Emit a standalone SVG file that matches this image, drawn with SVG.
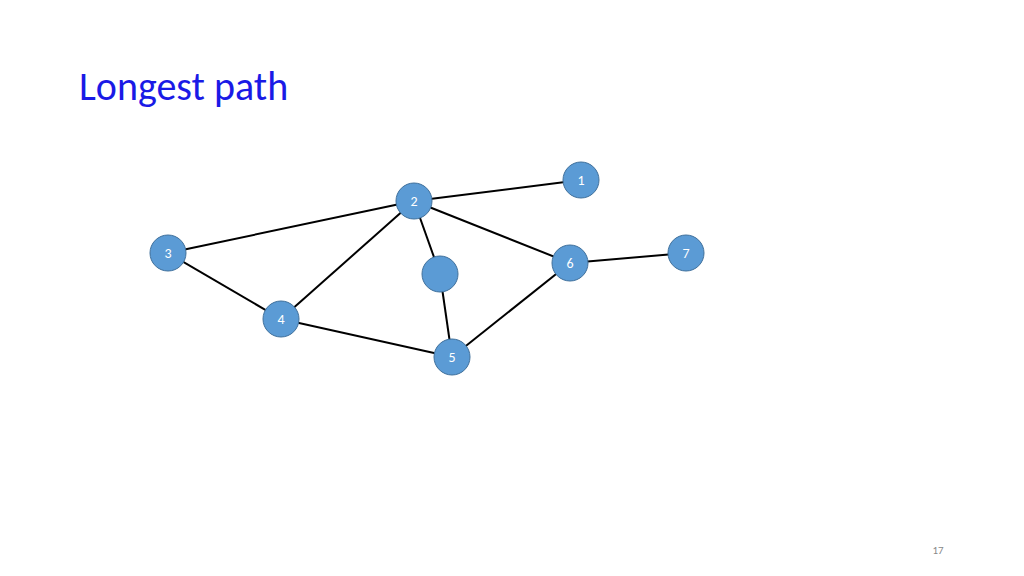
<svg xmlns="http://www.w3.org/2000/svg" width="1024" height="576" viewBox="0 0 1024 576">
<style>
.n{fill:#5b9bd5;stroke:#41719c;stroke-width:1}
.t{font-family:Calibri,"Liberation Sans",sans-serif;font-size:14px;fill:#fff;text-anchor:middle}
.e{stroke:#000;stroke-width:2}
</style>
<rect width="1024" height="576" fill="#fff"/>
<text x="79" y="100" font-family="Calibri,'Liberation Sans',sans-serif" font-size="40" fill="#1a1ae6">Longest path</text>
<text x="938" y="554" font-family="Calibri,'Liberation Sans',sans-serif" font-size="11" fill="#888" text-anchor="middle">17</text>
<g id="edges">
<line class="e" x1="414" y1="201" x2="581" y2="180"/>
<line class="e" x1="414" y1="201" x2="168" y2="253"/>
<line class="e" x1="414" y1="201" x2="281" y2="319"/>
<line class="e" x1="414" y1="201" x2="440" y2="274"/>
<line class="e" x1="414" y1="201" x2="570" y2="263"/>
<line class="e" x1="168" y1="253" x2="281" y2="319"/>
<line class="e" x1="281" y1="319" x2="452" y2="357"/>
<line class="e" x1="440" y1="274" x2="452" y2="357"/>
<line class="e" x1="452" y1="357" x2="570" y2="263"/>
<line class="e" x1="570" y1="263" x2="686" y2="253"/>
</g>
<g id="n1"><circle class="n" cx="581" cy="180" r="18"/><text class="t" x="581" y="185">1</text></g>
<g id="n2"><circle class="n" cx="414" cy="201" r="18"/><text class="t" x="414" y="206">2</text></g>
<g id="n3"><circle class="n" cx="168" cy="253" r="18"/><text class="t" x="168" y="258">3</text></g>
<g id="n4"><circle class="n" cx="281" cy="319" r="18"/><text class="t" x="281" y="324">4</text></g>
<g id="nx"><circle class="n" cx="440" cy="274" r="18"/></g>
<g id="n5"><circle class="n" cx="452" cy="357" r="18"/><text class="t" x="452" y="362">5</text></g>
<g id="n6"><circle class="n" cx="570" cy="263" r="18"/><text class="t" x="570" y="268">6</text></g>
<g id="n7"><circle class="n" cx="686" cy="253" r="18"/><text class="t" x="686" y="258">7</text></g>
</svg>
